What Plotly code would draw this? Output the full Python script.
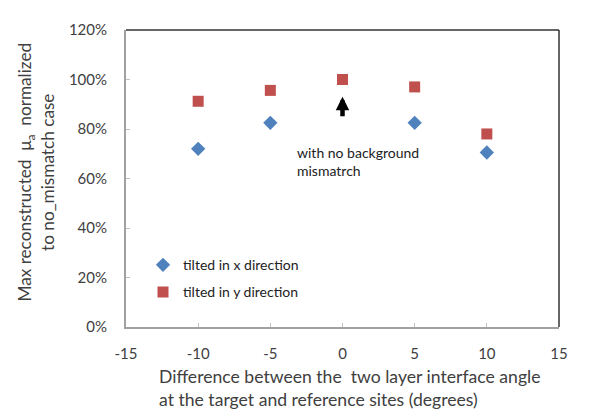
import plotly.graph_objects as go

angles = [-10, -5, 5, 10]
tilt_x = [72, 82.5, 82.5, 70.5]
angles_y = [-10, -5, 0, 5, 10]
tilt_y = [91.2, 95.6, 100, 97, 78]
x_ticks = [-15, -10, -5, 0, 5, 10, 15]
x_tick_labels = [str(v) for v in x_ticks]
y_ticks = [0, 20, 40, 60, 80, 100, 120]
y_tick_labels = [f"{v}%" for v in y_ticks]

FONT = "Lato"
TXT = "#404040"

# page body has an 8px margin; compensate so plot area lands at 126..559 x 25..327
L, R, T, B = 118, 49, 17, 101
PW = 600 - L - R
PH = 420 - T - B

fig = go.Figure()
fig.add_trace(go.Scatter(x=angles, y=tilt_x, mode="markers", name="tilted in x direction",
                         legendgroup="a",
                         marker=dict(symbol="diamond", size=11, color="#4F81BD")))
fig.add_trace(go.Scatter(x=angles_y, y=tilt_y, mode="markers", name="tilted in y direction",
                         legendgroup="b",
                         marker=dict(symbol="square", size=11, color="#C0504D")))

fig.update_layout(
    width=600, height=420,
    margin=dict(l=L, r=R, t=T, b=B),
    plot_bgcolor="white", paper_bgcolor="white",
    font=dict(family=FONT, size=14, color=TXT),
    showlegend=True,
    legend=dict(x=(143 - 126) / PW, y=0.262, xanchor="left", yanchor="top",
                bgcolor="rgba(0,0,0,0)", font=dict(size=14, color="#222", family=FONT),
                tracegroupgap=6, itemwidth=30),
    xaxis=dict(range=[-15, 15], tickvals=x_ticks, ticktext=x_tick_labels, showgrid=False,
               zeroline=False, showline=True, linecolor="#a0a0a0", linewidth=2,
               ticks="inside", ticklen=4, tickcolor="#c0c0c0", ticklabelstandoff=12,
               tickfont=dict(size=15, color=TXT, family=FONT)),
    yaxis=dict(range=[0, 120], tickvals=y_ticks, ticktext=y_tick_labels, showgrid=False,
               zeroline=False, showline=True, linecolor="#a0a0a0", linewidth=2,
               ticks="inside", ticklen=4, tickcolor="#c0c0c0", ticklabelstandoff=14,
               tickfont=dict(size=15, color=TXT, family=FONT)),
)

# top and right border
fig.add_shape(type="line", xref="paper", yref="paper", x0=0, x1=1, y0=1, y1=1,
              line=dict(color="#333", width=1.5))
fig.add_shape(type="line", xref="paper", yref="paper", x0=1, x1=1, y0=0, y1=1,
              line=dict(color="#333", width=1.5))

# y title
fig.add_annotation(xref="paper", yref="paper", x=(36 - 126) / PW, y=0.52,
                   xanchor="center", yanchor="middle", textangle=-90, showarrow=False,
                   text="Max reconstructed  μ<sub>a</sub>  normalized<br>to no_mismatch case",
                   font=dict(size=17.2, color=TXT, family=FONT))

# x title, left aligned two lines
fig.add_annotation(xref="paper", yref="paper", x=(157 - 126) / PW, y=-(365 - 327) / PH,
                   xanchor="left", yanchor="top", align="left", showarrow=False,
                   text="Difference between the  two layer interface angle<br>at the target and reference sites (degrees)",
                   font=dict(size=17.6, color=TXT, family=FONT))

# arrow
fig.add_annotation(x=0, y=93, xref="x", yref="y", ax=0, ay=21, showarrow=True,
                   arrowhead=2, arrowsize=0.6, arrowwidth=4.5, arrowcolor="black", text="")

# text annotation
fig.add_annotation(x=-3.3, y=67, xref="x", yref="y", xanchor="left", yanchor="middle",
                   align="left", showarrow=False,
                   text="with no background<br>mismatrch",
                   font=dict(size=14, color="#222", family=FONT))

fig.write_html("out.html")
